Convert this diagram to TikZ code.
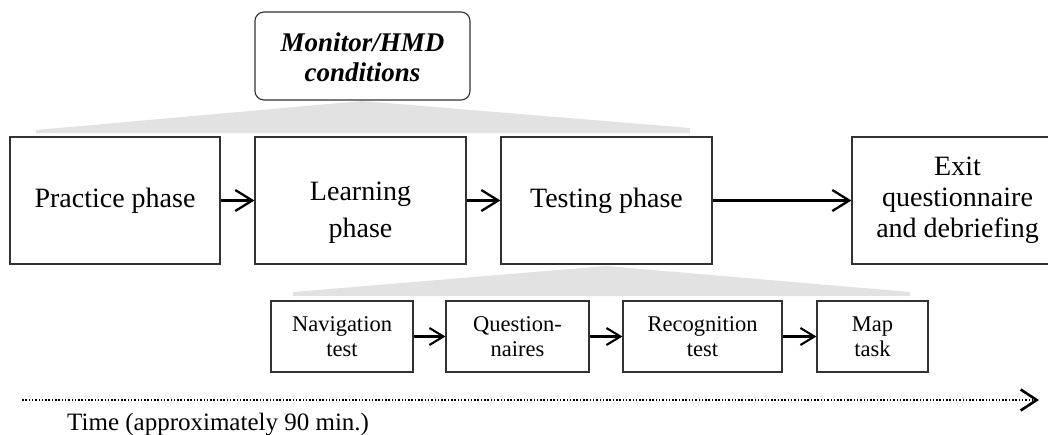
\documentclass[tikz,border=0pt]{standalone}
\usepackage{fontspec}
\setmainfont{Liberation Serif}
\usetikzlibrary{arrows.meta}
\definecolor{lightg}{RGB}{226,226,226}
\definecolor{boxline}{RGB}{50,50,50}
\tikzset{
  phasebox/.style={draw=boxline, line width=1.1pt, minimum width=211pt, minimum height=127pt,
    inner sep=0pt, align=center, font=\fontsize{28}{31}\selectfont},
  subbox/.style={draw=boxline, line width=1.1pt, minimum height=71pt,
    inner sep=0pt, align=center, font=\fontsize{22.5}{25}\selectfont},
  condbox/.style={draw=boxline, line width=1.1pt, rounded corners=9pt, minimum width=215pt,
    minimum height=88pt, inner sep=0pt, align=center,
    font=\fontsize{27}{30}\selectfont\bfseries\itshape},
  bigarrow/.style={line width=2.3pt, -{Straight Barb[length=17pt,width=21pt]}},
  smallarrow/.style={line width=2.1pt, -{Straight Barb[length=14pt,width=17pt]}},
  timearrow/.style={line width=2.6pt, dash pattern=on 1.5pt off 1.8pt,
    -{Straight Barb[length=16pt,width=21pt]}},
  fan/.style={fill=lightg, draw=none}
}
\begin{document}
\begin{tikzpicture}[x=1pt,y=-1pt]
\useasboundingbox (0,0) rectangle (1048,434);
\clip (0,0) rectangle (1048,434);
% gray fans
\fill[fan] (36,133) -- (36,130) -- (362,101) -- (690,128) -- (690,133) -- cycle;
\fill[fan] (293,296) -- (293,292) -- (606,266) -- (910,292) -- (910,296) -- cycle;
% condition box
\node[condbox] (cond) at (362.5,56) {\rule{0pt}{22pt}Monitor/HMD\\conditions};
% main phases
\node[phasebox, minimum width=210pt] (prac) at (115,200.5) {Practice phase};
\node[phasebox] (learn) at (360.5,200.5) {\rule{0pt}{42pt}Learning\\[6pt]phase};
\node[phasebox] (test) at (606.5,200.5) {Testing phase};
\node[phasebox] (exit) at (957.5,200.5) {Exit\\questionnaire\\and debriefing};
\draw[bigarrow] (prac.east) -- (learn.west);
\draw[bigarrow] (learn.east) -- (test.west);
\draw[bigarrow] (test.east) -- (exit.west);
% sub tasks
\node[subbox, minimum width=142pt] (nav) at (342,336.5) {Navigation\\test};
\node[subbox, minimum width=143pt] (quest) at (517.5,336.5) {Question-\\naires};
\node[subbox, minimum width=159pt] (recog) at (702.5,336.5) {Recognition\\test};
\node[subbox, minimum width=111pt] (map) at (872.5,336.5) {Map\\task};
\draw[smallarrow] (nav.east) -- (quest.west);
\draw[smallarrow] (quest.east) -- (recog.west);
\draw[smallarrow] (recog.east) -- (map.west);
% time line
\coordinate (t0) at (22,400);
\coordinate (t1) at (1039,400);
\draw[timearrow] (t0) -- (t1);
\node[anchor=base west, inner sep=0pt, font=\fontsize{25}{28}\selectfont] (time) at (67,430) {Time (approximately 90 min.)};
\end{tikzpicture}
\end{document}
